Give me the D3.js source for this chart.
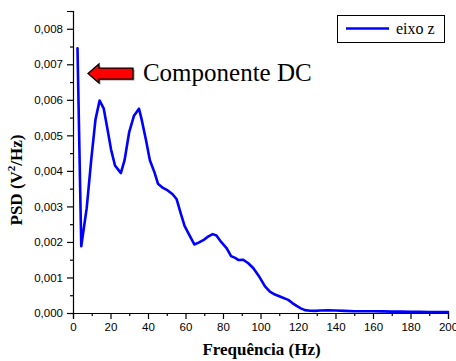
<!DOCTYPE html>
<html>
<head>
<meta charset="utf-8">
<script src="https://cdn.jsdelivr.net/npm/d3@7"></script>
<style>
  html, body { margin: 0; padding: 0; background: #fff; }
  svg { display: block; }
  .serif { font-family: "Times New Roman", "Liberation Serif", serif; }
  .sans { font-family: "Liberation Sans", Arial, sans-serif; }
</style>
</head>
<body>
<svg id="chart" width="456" height="361"></svg>
<script>
// PSD spectrum, z axis
const freqHz = [2.4, 4.4, 7.3, 9.8, 12.0, 14.2, 16.4, 18.3, 20.3, 22.4, 24.6, 25.5, 27.5, 30.0,
  32.5, 35.2, 36.6, 39.0, 41.0, 43.5, 45.3, 48.0, 50.5, 53.0, 55.3, 57.5, 59.5, 62.0, 64.7,
  67.0, 69.5, 72.0, 74.5, 76.5, 79.0, 82.0, 84.3, 86.5, 88.3, 90.8, 93.5, 96.2, 99.0, 102.4,
  105.0, 107.7, 111.0, 114.8, 117.0, 119.3, 121.5, 123.7, 126.5, 129.0, 132.0, 136.0, 140,
  145, 150, 155, 160, 165, 170, 175, 180, 185, 190, 195, 200];
const psdZ = [0.00745, 0.00188, 0.00295, 0.00435, 0.00545, 0.00598, 0.00575, 0.00520, 0.00460,
  0.00415, 0.00400, 0.00394, 0.00430, 0.00510, 0.00555, 0.00575, 0.00545, 0.00485, 0.00430,
  0.00395, 0.00364, 0.00352, 0.00345, 0.00335, 0.00320, 0.00280, 0.00245, 0.00220, 0.00193,
  0.00198, 0.00205, 0.00215, 0.00222, 0.00218, 0.00200, 0.00182, 0.00160, 0.00155, 0.00149,
  0.00150, 0.00140, 0.00126, 0.00105, 0.00075, 0.00060, 0.00052, 0.00045, 0.00037, 0.00028,
  0.00020, 0.00013, 0.00008, 0.000065, 0.00006, 0.00007, 0.000075, 0.00007, 0.00006, 0.00005,
  0.00005, 0.00005, 0.000045, 0.00004, 0.00004, 0.000035, 0.000035, 0.00003, 0.00003, 0.00003];

const xTicks = [0, 20, 40, 60, 80, 100, 120, 140, 160, 180, 200];
const yTicks = [0, 0.001, 0.002, 0.003, 0.004, 0.005, 0.006, 0.007, 0.008];
const seriesName = "eixo z";
const xTitle = "Frequência (Hz)";
const annotationText = "Componente DC";

const svg = d3.select("#chart");
const x = d3.scaleLinear().domain([0, 200]).range([73, 448]);
const y = d3.scaleLinear().domain([0, 0.0085]).range([313, 11]);

const fmtY = v => d3.format(".3f")(v).replace(".", ",");

// y axis with minor ticks
svg.append("g").attr("transform", `translate(${x(0)},0)`)
  .call(d3.axisLeft(y).tickValues(yTicks).tickFormat(fmtY).tickSizeOuter(0).tickSize(6).tickPadding(4));
svg.append("g").attr("transform", `translate(${x(0)},0)`)
  .call(d3.axisLeft(y).tickValues(d3.range(0.0005, 0.0086, 0.001)).tickFormat("").tickSizeOuter(0).tickSize(3))
  .select(".domain").remove();

// x axis with minor ticks
svg.append("g").attr("transform", `translate(0,${y(0)})`)
  .call(d3.axisBottom(x).tickValues(xTicks).tickFormat(d3.format("d")).tickSizeOuter(0).tickSize(6).tickPadding(4));
svg.append("g").attr("transform", `translate(0,${y(0)})`)
  .call(d3.axisBottom(x).tickValues(d3.range(10, 200, 20)).tickFormat("").tickSizeOuter(0).tickSize(3))
  .select(".domain").remove();

svg.selectAll(".tick text").attr("class", "sans")
  .attr("font-size", 11.5).attr("fill", "#000");
svg.selectAll("g").attr("font-family", null);
svg.selectAll(".domain, .tick line").attr("stroke", "#000").attr("stroke-width", 1.2);

// series line
const data = freqHz.map((f, i) => ({ f, v: psdZ[i] }));
svg.append("path").datum(data)
  .attr("fill", "none").attr("stroke", "#0000ff").attr("stroke-width", 2.6)
  .attr("stroke-linejoin", "round").attr("stroke-linecap", "round")
  .attr("d", d3.line().x(d => x(d.f)).y(d => y(d.v)));

// axis titles
svg.append("text").attr("class", "serif").attr("x", (x(0) + x(200)) / 2 + 1).attr("y", 355)
  .attr("text-anchor", "middle")
  .attr("font-weight", "bold").attr("font-size", 17).text(xTitle);

const yt = svg.append("text").attr("class", "serif")
  .attr("transform", "translate(22,180) rotate(-90)")
  .attr("text-anchor", "middle").attr("font-weight", "bold").attr("font-size", 17);
yt.append("tspan").text("PSD (V");
yt.append("tspan").attr("font-size", 11).attr("dy", -7).text("2");
yt.append("tspan").attr("dy", 7).text("/Hz)");

// legend
const lg = svg.append("g");
lg.append("rect").attr("x", 337.5).attr("y", 15.5).attr("width", 107).attr("height", 27)
  .attr("fill", "#fff").attr("stroke", "#000").attr("stroke-width", 1);
lg.append("line").attr("x1", 346).attr("x2", 389).attr("y1", 28.5).attr("y2", 28.5)
  .attr("stroke", "#0000ff").attr("stroke-width", 2.6);
lg.append("text").attr("class", "serif").attr("x", 396).attr("y", 34)
  .attr("font-size", 16).text(seriesName);

// DC component annotation: arrow pointing at the spike
const tipX = x(8), tipY = y(0.00674);
const headLen = 11, headHalf = 9.5, bodyHalf = 5.5, bodyLen = 34;
const arrow = [
  [tipX, tipY], [tipX + headLen, tipY - headHalf], [tipX + headLen, tipY - bodyHalf],
  [tipX + headLen + bodyLen, tipY - bodyHalf], [tipX + headLen + bodyLen, tipY + bodyHalf],
  [tipX + headLen, tipY + bodyHalf], [tipX + headLen, tipY + headHalf]
];
svg.append("path").attr("d", d3.line()(arrow) + "Z")
  .attr("transform", "translate(1.5,1.5)").attr("fill", "#999");
svg.append("path").attr("d", d3.line()(arrow) + "Z")
  .attr("fill", "#ff0000").attr("stroke", "#000").attr("stroke-width", 1.3).attr("stroke-linejoin", "miter");
svg.append("text").attr("class", "serif").attr("x", x(37.3)).attr("y", y(0.00652))
  .attr("font-size", 25).text(annotationText);
</script>
</body>
</html>
